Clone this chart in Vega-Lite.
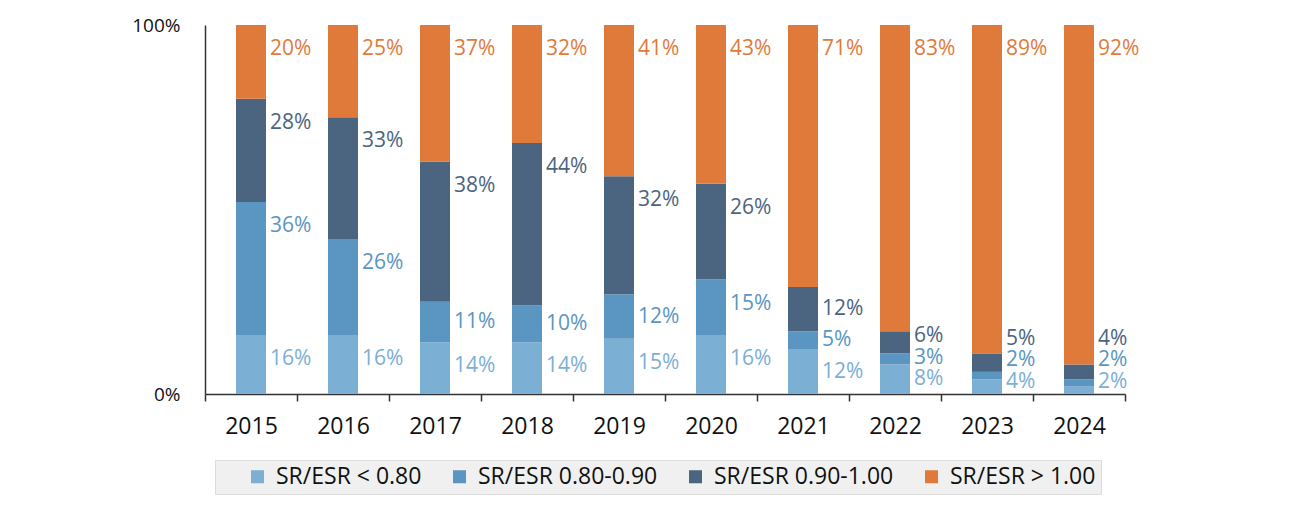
{
  "$schema": "https://vega.github.io/schema/vega-lite/v6.json",
  "autosize": "none",
  "width": 920,
  "height": 369,
  "padding": {"left": 205, "top": 25, "right": 185, "bottom": 113},
  "background": "white",
  "config": {"view": {"stroke": null}, "font": "Open Sans"},
  "data": {"values": [
    {"year": "2015", "cat": "SR/ESR < 0.80", "v": 16},
    {"year": "2015", "cat": "SR/ESR 0.80-0.90", "v": 36},
    {"year": "2015", "cat": "SR/ESR 0.90-1.00", "v": 28},
    {"year": "2015", "cat": "SR/ESR > 1.00", "v": 20},
    {"year": "2016", "cat": "SR/ESR < 0.80", "v": 16},
    {"year": "2016", "cat": "SR/ESR 0.80-0.90", "v": 26},
    {"year": "2016", "cat": "SR/ESR 0.90-1.00", "v": 33},
    {"year": "2016", "cat": "SR/ESR > 1.00", "v": 25},
    {"year": "2017", "cat": "SR/ESR < 0.80", "v": 14},
    {"year": "2017", "cat": "SR/ESR 0.80-0.90", "v": 11},
    {"year": "2017", "cat": "SR/ESR 0.90-1.00", "v": 38},
    {"year": "2017", "cat": "SR/ESR > 1.00", "v": 37},
    {"year": "2018", "cat": "SR/ESR < 0.80", "v": 14},
    {"year": "2018", "cat": "SR/ESR 0.80-0.90", "v": 10},
    {"year": "2018", "cat": "SR/ESR 0.90-1.00", "v": 44},
    {"year": "2018", "cat": "SR/ESR > 1.00", "v": 32},
    {"year": "2019", "cat": "SR/ESR < 0.80", "v": 15},
    {"year": "2019", "cat": "SR/ESR 0.80-0.90", "v": 12},
    {"year": "2019", "cat": "SR/ESR 0.90-1.00", "v": 32},
    {"year": "2019", "cat": "SR/ESR > 1.00", "v": 41},
    {"year": "2020", "cat": "SR/ESR < 0.80", "v": 16},
    {"year": "2020", "cat": "SR/ESR 0.80-0.90", "v": 15},
    {"year": "2020", "cat": "SR/ESR 0.90-1.00", "v": 26},
    {"year": "2020", "cat": "SR/ESR > 1.00", "v": 43},
    {"year": "2021", "cat": "SR/ESR < 0.80", "v": 12},
    {"year": "2021", "cat": "SR/ESR 0.80-0.90", "v": 5},
    {"year": "2021", "cat": "SR/ESR 0.90-1.00", "v": 12},
    {"year": "2021", "cat": "SR/ESR > 1.00", "v": 71},
    {"year": "2022", "cat": "SR/ESR < 0.80", "v": 8},
    {"year": "2022", "cat": "SR/ESR 0.80-0.90", "v": 3},
    {"year": "2022", "cat": "SR/ESR 0.90-1.00", "v": 6},
    {"year": "2022", "cat": "SR/ESR > 1.00", "v": 83},
    {"year": "2023", "cat": "SR/ESR < 0.80", "v": 4},
    {"year": "2023", "cat": "SR/ESR 0.80-0.90", "v": 2},
    {"year": "2023", "cat": "SR/ESR 0.90-1.00", "v": 5},
    {"year": "2023", "cat": "SR/ESR > 1.00", "v": 89},
    {"year": "2024", "cat": "SR/ESR < 0.80", "v": 2},
    {"year": "2024", "cat": "SR/ESR 0.80-0.90", "v": 2},
    {"year": "2024", "cat": "SR/ESR 0.90-1.00", "v": 4},
    {"year": "2024", "cat": "SR/ESR > 1.00", "v": 92}
  ]},
  "transform": [
    {"calculate": "indexof(['SR/ESR < 0.80','SR/ESR 0.80-0.90','SR/ESR 0.90-1.00','SR/ESR > 1.00'], datum.cat)", "as": "k"},
    {"stack": "v", "groupby": ["year"], "sort": [{"field": "k", "order": "ascending"}], "as": ["y0", "y1"]},
    {"calculate": "max((datum.y0 + datum.y1) / 2, datum.y1 - 6.5, 3.3) - 5.8 * datum.k", "as": "c"},
    {"window": [{"op": "max", "field": "c", "as": "cm"}], "groupby": ["year"], "sort": [{"field": "k", "order": "ascending"}], "frame": [null, 0]},
    {"calculate": "datum.cm + 5.8 * datum.k", "as": "ly"},
    {"calculate": "datum.v + '%'", "as": "lbl"}
  ],
  "encoding": {
    "x": {"field": "year", "type": "nominal", "title": null,
      "scale": {"paddingInner": 0, "paddingOuter": 0},
      "axis": {"labelAngle": 0, "labelFontSize": 23, "labelColor": "#111", "labelPadding": 14,
        "tickBand": "extent", "tickSize": 7, "tickColor": "#333", "domainColor": "#333", "domainWidth": 1.5, "tickWidth": 1.5}}
  },
  "layer": [
    {
      "mark": {"type": "bar", "size": 30},
      "encoding": {
        "y": {"field": "y0", "type": "quantitative", "scale": {"domain": [0, 100], "nice": false}, "title": null,
          "axis": {"values": [0, 100], "labelExpr": "datum.value + '%'", "ticks": false, "grid": false,
            "labelFontSize": 19, "labelColor": "#111", "labelPadding": 25, "domainColor": "#333", "domainWidth": 1.5}},
        "y2": {"field": "y1"},
        "color": {"field": "cat", "type": "nominal", "title": null,
          "scale": {"domain": ["SR/ESR < 0.80", "SR/ESR 0.80-0.90", "SR/ESR 0.90-1.00", "SR/ESR > 1.00"],
            "range": ["#7bafd4", "#5a96c1", "#4b6581", "#e07a3b"]},
          "legend": {"orient": "none", "legendX": 10, "legendY": 435, "direction": "horizontal",
            "symbolType": "square", "symbolSize": 170, "symbolStrokeWidth": 0, "symbolOffset": 26,
            "labelFontSize": 23, "labelColor": "#111",
            "labelOffset": 7, "columnPadding": -9, "padding": 5, "fillColor": "#f0f0f0", "strokeColor": "#dcdcdc",
            "labelLimit": 300}}
      }
    },
    {
      "mark": {"type": "text", "align": "left", "baseline": "middle", "dx": 19, "fontSize": 21},
      "encoding": {
        "y": {"field": "ly", "type": "quantitative"},
        "text": {"field": "lbl"},
        "color": {"field": "cat", "type": "nominal", "legend": null}
      }
    }
  ]
}
